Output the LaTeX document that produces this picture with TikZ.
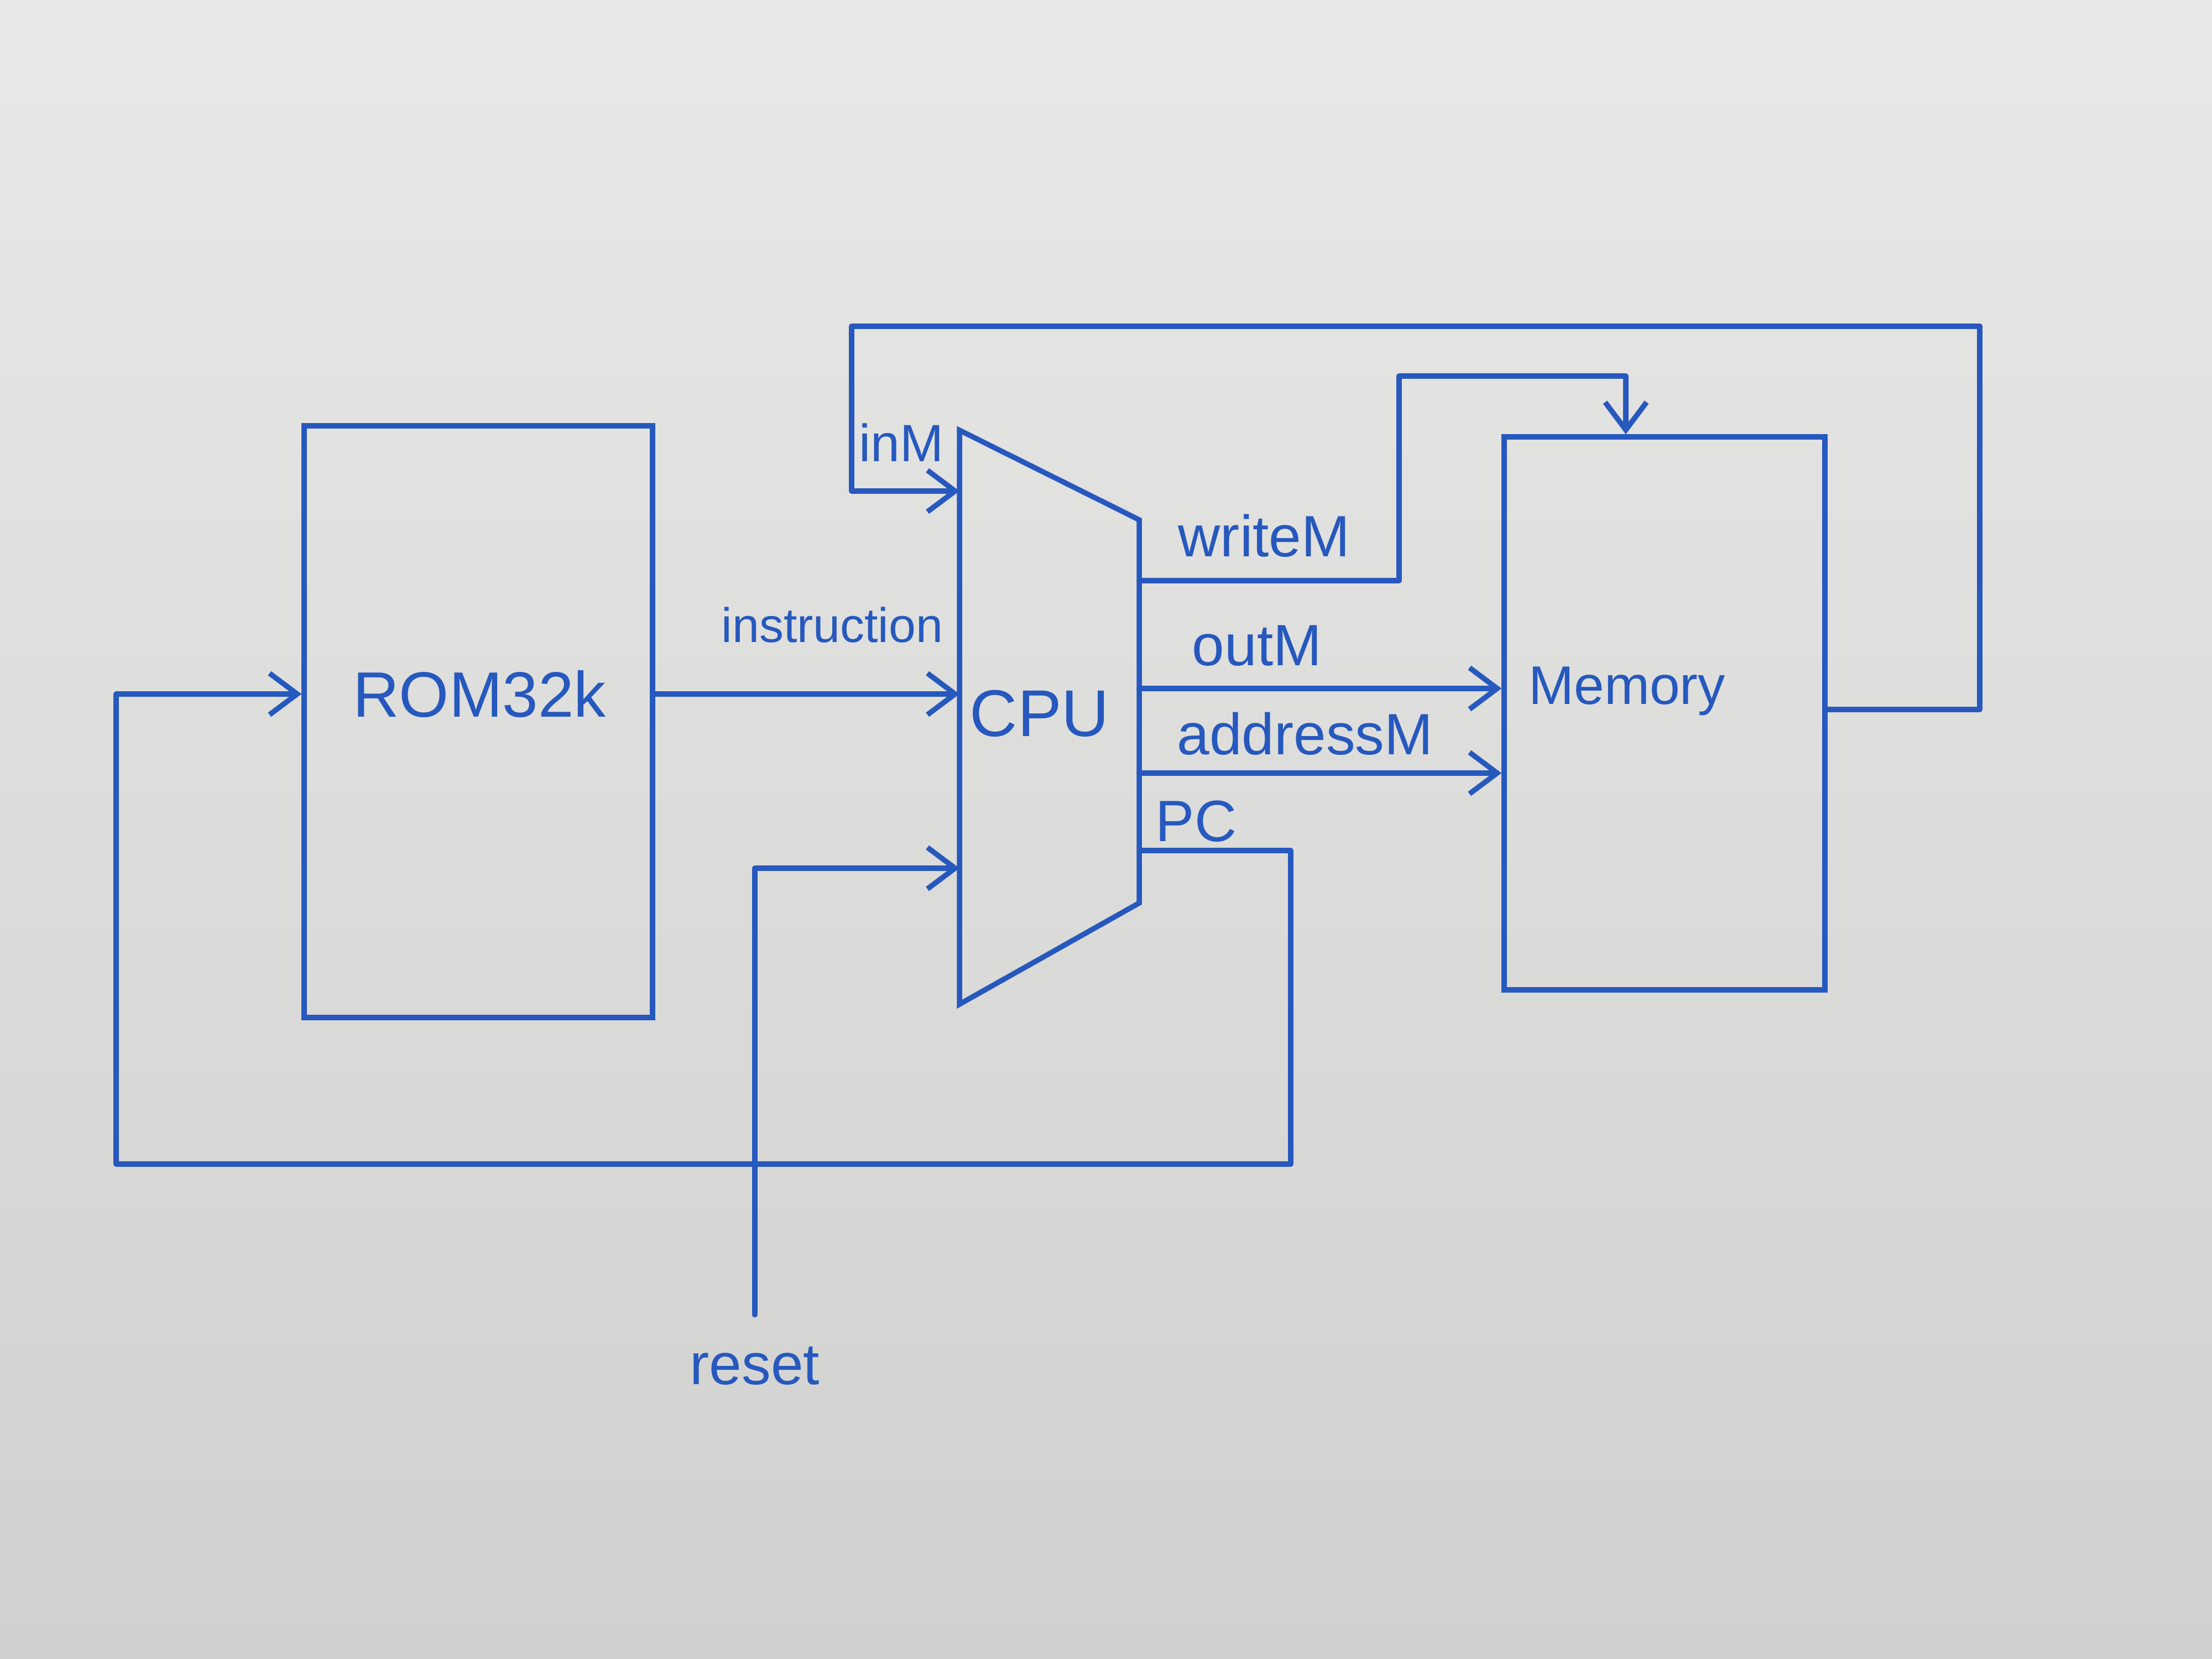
\documentclass[tikz,border=0pt]{standalone}
\usepackage{fontspec}
\setmainfont{Liberation Sans}
\usetikzlibrary{arrows.meta,calc}
\definecolor{ink}{RGB}{38,88,190}
\definecolor{papertop}{RGB}{232,232,230}
\definecolor{paperbot}{RGB}{208,208,206}
\begin{document}
\begin{tikzpicture}[
  wire/.style={draw=ink, line width=2.7pt, line join=round, line cap=round},
  arr/.style={wire, -{Straight Barb[length=0.5cm,width=0.75cm]}},
  blk/.style={draw=ink, line width=2.7pt, rectangle, inner sep=0pt},
  lbl/.style={text=ink, font=\fontsize{30}{36}\selectfont, inner sep=2pt},
]
\shade[top color=papertop, bottom color=paperbot] (0,0) rectangle (40,30);
\useasboundingbox (0,0) rectangle (40,30);

% ROM32k
\node[blk, minimum width=6.3cm, minimum height=10.7cm] (rom) at (8.65,16.95) {};
\node[lbl, font=\fontsize{33}{40}\selectfont] (romt) at (8.67,17.45) {ROM32k};

% Memory
\node[blk, minimum width=5.8cm, minimum height=10cm] (mem) at (30.1,17.1) {};
\node[lbl, font=\fontsize{28}{34}\selectfont] (memt) at (29.42,17.5) {Memory};

% CPU
\coordinate (ctl) at (17.35,22.22);
\coordinate (ctr) at (20.6,20.6);
\coordinate (cbr) at (20.6,13.67);
\coordinate (cbl) at (17.35,11.84);
\draw[wire, line join=miter] (ctl) -- (ctr) -- (cbr) -- (cbl) -- cycle;
\node[lbl, font=\fontsize{34}{40}\selectfont] (cput) at (18.8,17.1) {CPU};

% helper levels
\coordinate (yinM) at (0,17.17);
\coordinate (yinC) at (0,21.12);
\coordinate (ywr) at (0,19.5);
\coordinate (yout) at (0,17.55);
\coordinate (yadr) at (0,16.02);
\coordinate (ypc) at (0,14.62);
\coordinate (yres) at (0,14.3);
\coordinate (xwr) at (29.4,0);

% instruction
\draw[arr] (rom.east |- romt) -- (ctl |- romt);
\node[lbl, font=\fontsize{25}{30}\selectfont] (instr) at (15.05,18.7) {instruction};

% inM
\draw[arr] (mem.east |- yinM) -- (35.8,17.17) -- (35.8,24.1) -- (15.4,24.1) -- (15.4,21.12) -- (ctl |- yinC);
\node[lbl, font=\fontsize{27}{32}\selectfont] (inm) at (16.3,22.0) {inM};

% writeM
\draw[arr] (cbr |- ywr) -- (25.3,19.5) -- (25.3,23.2) -- (29.4,23.2) -- (mem.north -| xwr);
\node[lbl] (writem) at (22.86,20.31) {writeM};

% outM
\draw[arr] (cbr |- yout) -- (mem.west |- yout);
\node[lbl] (outm) at (22.73,18.32) {outM};

% addressM
\draw[arr] (cbr |- yadr) -- (mem.west |- yadr);
\node[lbl] (addrm) at (23.6,16.73) {addressM};

% PC
\draw[arr] (cbr |- ypc) -- (23.34,14.62) -- (23.34,8.95) -- (2.1,8.95) -- (2.1,17.45) -- (rom.west |- romt);
\node[lbl] (pc) at (21.63,15.15) {PC};

% reset
\node[lbl] (reset) at (13.65,5.3) {reset};
\draw[arr] ([yshift=0.5cm]reset.north) -- (13.65,14.3) -- (ctl |- yres);
\end{tikzpicture}
\end{document}
